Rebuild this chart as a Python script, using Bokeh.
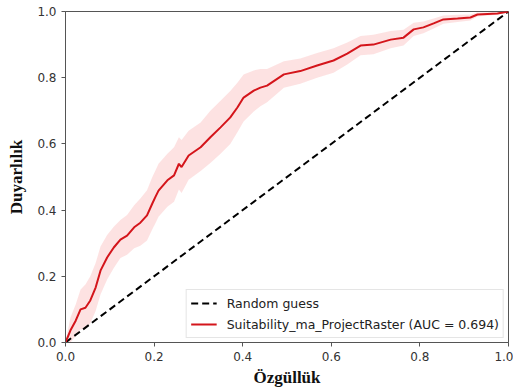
from bokeh.plotting import figure
from bokeh.models import Range1d, FixedTicker, Legend, LegendItem
from bokeh.embed import file_html
from bokeh.resources import INLINE

# Data
fpr = [0.0, 0.011, 0.023, 0.034, 0.045, 0.056, 0.068, 0.079, 0.094, 0.109,
       0.124, 0.139, 0.155, 0.169, 0.184, 0.196, 0.203, 0.21, 0.23, 0.245,
       0.256, 0.262, 0.278, 0.305, 0.327, 0.35, 0.372, 0.388, 0.402, 0.425,
       0.44, 0.455, 0.493, 0.53, 0.568, 0.605, 0.636, 0.666, 0.695, 0.734,
       0.763, 0.786, 0.808, 0.831, 0.853, 0.885, 0.914, 0.93, 0.975, 1.0]
tpr_mean = [0.0, 0.036, 0.066, 0.10, 0.105, 0.127, 0.166, 0.217, 0.257, 0.287,
            0.311, 0.323, 0.348, 0.362, 0.384, 0.42, 0.44, 0.459, 0.49, 0.505,
            0.54, 0.53, 0.565, 0.59, 0.62, 0.65, 0.68, 0.71, 0.74, 0.761,
            0.77, 0.776, 0.81, 0.82, 0.837, 0.852, 0.873, 0.897, 0.90, 0.915,
            0.921, 0.946, 0.952, 0.964, 0.976, 0.979, 0.982, 0.991, 0.994, 1.0]
tpr_upper = [0.0, 0.075, 0.115, 0.16, 0.175, 0.2, 0.24, 0.29, 0.325, 0.35,
             0.37, 0.385, 0.415, 0.435, 0.46, 0.5, 0.52, 0.54, 0.57, 0.59,
             0.62, 0.612, 0.64, 0.665, 0.7, 0.73, 0.76, 0.785, 0.81, 0.822,
             0.826, 0.826, 0.85, 0.858, 0.875, 0.889, 0.906, 0.926, 0.93, 0.941,
             0.945, 0.966, 0.97, 0.979, 0.988, 0.99, 0.991, 0.997, 0.998, 1.0]
tpr_lower = [0.0, 0.0, 0.02, 0.04, 0.04, 0.058, 0.095, 0.145, 0.19, 0.225,
             0.255, 0.265, 0.285, 0.292, 0.308, 0.342, 0.36, 0.38, 0.41, 0.425,
             0.462, 0.452, 0.492, 0.518, 0.542, 0.57, 0.6, 0.635, 0.668, 0.698,
             0.714, 0.726, 0.77, 0.782, 0.8, 0.815, 0.84, 0.868, 0.871, 0.889,
             0.897, 0.926, 0.934, 0.949, 0.963, 0.968, 0.973, 0.985, 0.99, 1.0]
diag_x = [0.0, 1.0]
diag_y = [0.0, 1.0]
ticks = [0.0, 0.2, 0.4, 0.6, 0.8, 1.0]
tick_labels = ["0.0", "0.2", "0.4", "0.6", "0.8", "1.0"]
label_random = "Random guess"
label_model = "Suitability_ma_ProjectRaster (AUC = 0.694)"
x_title = "Özgüllük"
y_title = "Duyarlılık"

p = figure(frame_width=443, frame_height=331,
           min_border_left=65, min_border_right=5, min_border_top=11, min_border_bottom=48,
           x_range=Range1d(0, 1), y_range=Range1d(0, 1),
           output_backend="svg", toolbar_location=None,
           background_fill_color="white", border_fill_color="white")

p.grid.visible = False
p.outline_line_color = "#555555"
p.outline_line_width = 1

band = p.varea(x=fpr, y1=tpr_lower, y2=tpr_upper, fill_color="#f03030", fill_alpha=0.14)
r_diag = p.line(diag_x, diag_y, line_color="black", line_width=2, line_dash="7 4")
r_roc = p.line(fpr, tpr_mean, line_color="#d4151b", line_width=2)

for ax in (p.xaxis[0], p.yaxis[0]):
    ax.ticker = FixedTicker(ticks=ticks)
    ax.major_label_overrides = {t: l for t, l in zip(ticks, tick_labels)}
    ax.minor_tick_line_color = None
    ax.major_tick_out = 4
    ax.major_tick_in = 0
    ax.axis_line_color = "#555555"
    ax.major_tick_line_color = "#555555"
    ax.major_label_text_font = "DejaVu Sans"
    ax.major_label_text_font_size = "12px"
    ax.major_label_text_color = "#333333"
    ax.axis_label_text_font = "Liberation Serif"
    ax.axis_label_text_font_style = "bold"
    ax.axis_label_text_font_size = "17px"
    ax.axis_label_text_color = "#111111"

p.xaxis[0].axis_label = x_title
p.yaxis[0].axis_label = y_title
p.xaxis[0].axis_label_standoff = 4
p.yaxis[0].axis_label_standoff = 8

legend = Legend(items=[LegendItem(label=label_random, renderers=[r_diag]),
                       LegendItem(label=label_model, renderers=[r_roc])],
                location="bottom_right")
legend.label_text_font = "DejaVu Sans"
legend.label_text_font_size = "12.5px"
legend.label_text_color = "#222222"
legend.border_line_color = "#cccccc"
legend.border_line_width = 1
legend.background_fill_alpha = 0.85
legend.glyph_width = 26
legend.glyph_height = 18
legend.spacing = 3
legend.padding = 4
legend.margin = 4
legend.label_standoff = 10
legend.label_height = 18
p.add_layout(legend)

open("out.html", "w").write(file_html(p, INLINE))
